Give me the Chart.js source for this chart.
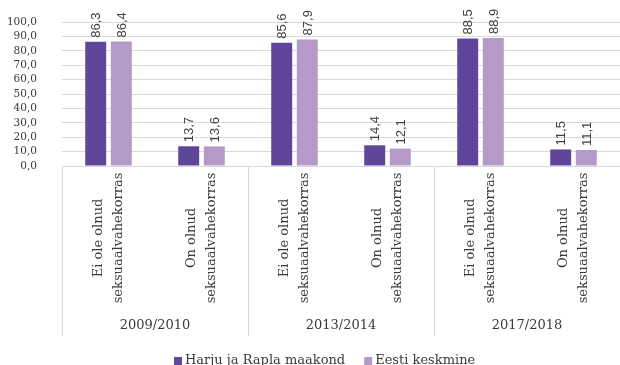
<!DOCTYPE html>
<html>
<head>
<meta charset="utf-8">
<script src="https://cdn.jsdelivr.net/npm/chart.js@4/dist/chart.umd.min.js"></script>
<style>
    html, body { margin: 0; padding: 0; background: #ffffff; }
    #wrap { width: 620px; height: 365px; position: relative; }
</style>
</head>
<body>
<div id="wrap"><canvas id="surveyChart"></canvas></div>
<script>

// ======================================
// Data
// ======================================

const categories = [
    ["Ei ole olnud", "seksuaalvahekorras"],
    ["On olnud", "seksuaalvahekorras"],
    ["Ei ole olnud", "seksuaalvahekorras"],
    ["On olnud", "seksuaalvahekorras"],
    ["Ei ole olnud", "seksuaalvahekorras"],
    ["On olnud", "seksuaalvahekorras"]
];

const yearGroups = ["2009/2010", "2013/2014", "2017/2018"];

const harjuRapla = [86.3, 13.7, 85.6, 14.4, 88.5, 11.5];

const eestiKeskmine = [86.4, 13.6, 87.9, 12.1, 88.9, 11.1];

const seriesNames = ["Harju ja Rapla maakond", "Eesti keskmine"];

const seriesColors = ["#60469a", "#b39ac9"];

const textColor = "#3a3a3a";

const serifFont = "'DejaVu Serif', serif";

function formatValue(v) {
    return v.toFixed(1).replace(".", ",");
}

// ======================================
// Labels, separators and legend plugin
// ======================================

const extrasPlugin = {

    id: "extras",

    afterDatasetsDraw(chart) {

        const ctx = chart.ctx;

        // value labels above the bars
        ctx.save();
        ctx.font = "13px 'Liberation Sans', Arial, sans-serif";
        ctx.fillStyle = "#404040";
        ctx.textAlign = "left";
        ctx.textBaseline = "middle";

        chart.data.datasets.forEach((ds, di) => {
            chart.getDatasetMeta(di).data.forEach((bar, i) => {
                ctx.save();
                ctx.translate(bar.x, bar.y - 4);
                ctx.rotate(-Math.PI / 2);
                ctx.fillText(formatValue(ds.data[i]), 0, 1);
                ctx.restore();
            });
        });
        ctx.restore();
    },

    afterDraw(chart) {

        const ctx = chart.ctx;
        const xScale = chart.scales.x;
        const area = chart.chartArea;

        const half = (xScale.getPixelForValue(1) - xScale.getPixelForValue(0)) / 2;

        // category labels, rotated, two centred lines
        ctx.save();
        ctx.font = "13px " + serifFont;
        ctx.fillStyle = textColor;
        ctx.textAlign = "center";
        ctx.textBaseline = "middle";

        categories.forEach((lines, i) => {
            const cx = xScale.getPixelForValue(i);
            ctx.save();
            ctx.translate(cx, 238);
            ctx.rotate(-Math.PI / 2);
            lines.forEach((line, li) => {
                ctx.fillText(line, 0, (li - (lines.length - 1) / 2) * 20);
            });
            ctx.restore();
        });

        // group separators
        ctx.strokeStyle = "#d9d9d9";
        ctx.lineWidth = 1;
        for (let g = 0; g <= yearGroups.length; g++) {
            const idx = Math.min(g * 2, categories.length - 1);
            const x = g * 2 < categories.length
                ? xScale.getPixelForValue(idx) - half
                : xScale.getPixelForValue(idx) + half;
            ctx.beginPath();
            ctx.moveTo(Math.round(x) + 0.5, area.bottom);
            ctx.lineTo(Math.round(x) + 0.5, 336);
            ctx.stroke();
        }

        // year labels
        yearGroups.forEach((year, g) => {
            const cx = (xScale.getPixelForValue(g * 2) + xScale.getPixelForValue(g * 2 + 1)) / 2;
            ctx.fillText(year, cx, 326);
        });

        // legend
        ctx.textAlign = "left";
        let lx = 174;
        seriesNames.forEach((name, si) => {
            ctx.fillStyle = seriesColors[si];
            ctx.fillRect(lx, 357, 8, 8);
            ctx.fillStyle = textColor;
            ctx.fillText(name, lx + 11, 361);
            lx += 11 + ctx.measureText(name).width + 19;
        });

        ctx.restore();
    }
};

// ======================================
// Chart
// ======================================

const ctx = document
    .getElementById("surveyChart")
    .getContext("2d");

const surveyChart = new Chart(ctx, {

    type: "bar",

    data: {

        labels: categories,

        datasets: [{
            label: seriesNames[0],
            data: harjuRapla,
            backgroundColor: seriesColors[0],
            categoryPercentage: 0.55,
            barPercentage: 0.82
        }, {
            label: seriesNames[1],
            data: eestiKeskmine,
            backgroundColor: seriesColors[1],
            categoryPercentage: 0.55,
            barPercentage: 0.82
        }]
    },

    options: {

        responsive: true,

        maintainAspectRatio: false,

        animation: false,

        layout: {
            padding: { top: 22, right: 0, bottom: 0, left: 0 }
        },

        plugins: {
            legend: { display: false },
            tooltip: { enabled: false }
        },

        scales: {

            x: {
                ticks: { display: false },
                grid: { display: false },
                border: { display: false },
                afterFit(scale) {
                    scale.height = 199;
                }
            },

            y: {
                min: 0,
                max: 100,
                ticks: {
                    stepSize: 10,
                    autoSkip: false,
                    padding: 0,
                    color: textColor,
                    font: { family: serifFont, size: 10.5 },
                    callback: (v) => formatValue(v)
                },
                grid: {
                    color: "#d9d9d9",
                    drawTicks: true,
                    tickLength: 25,
                    tickColor: "rgba(0,0,0,0)"
                },
                border: { display: false },
                afterFit(scale) {
                    scale.width = 62;
                }
            }
        }
    },

    plugins: [extrasPlugin]
});

</script>
</body>
</html>
